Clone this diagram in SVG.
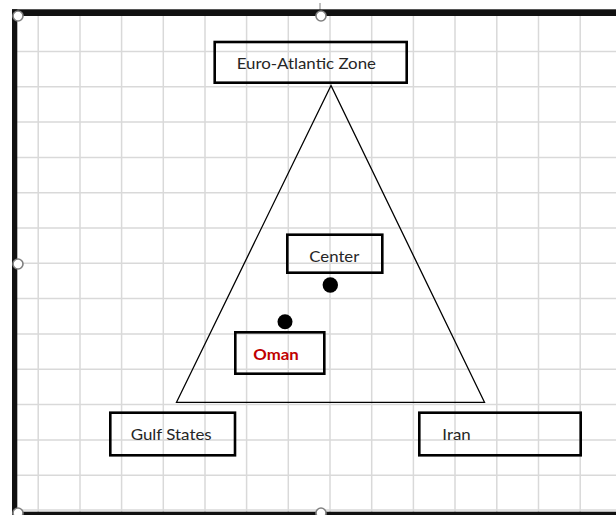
<svg xmlns="http://www.w3.org/2000/svg" width="616" height="515" viewBox="0 0 616 515">
<style>
.grid line{stroke:#d9d9d9;stroke-width:1.5}
.box{fill:none;stroke:#000;stroke-width:2.6}
.lbl{font-family:Lato,"Liberation Sans",sans-serif;font-size:15px;fill:#262626}
.oman{font-family:Lato,"Liberation Sans",sans-serif;font-size:15px;font-weight:bold;fill:#c00000}
.handle{fill:#fff;stroke:#808080;stroke-width:1.6}
.dot{fill:#000}
</style>
<rect width="616" height="515" fill="#fff"/>
<g class="grid">
<line x1="38.2" y1="16" x2="38.2" y2="512"/>
<line x1="80" y1="16" x2="80" y2="512"/>
<line x1="121.6" y1="16" x2="121.6" y2="512"/>
<line x1="163.3" y1="16" x2="163.3" y2="512"/>
<line x1="205" y1="16" x2="205" y2="512"/>
<line x1="246.6" y1="16" x2="246.6" y2="512"/>
<line x1="288.3" y1="16" x2="288.3" y2="512"/>
<line x1="330" y1="16" x2="330" y2="512"/>
<line x1="371.7" y1="16" x2="371.7" y2="512"/>
<line x1="413.4" y1="16" x2="413.4" y2="512"/>
<line x1="455" y1="16" x2="455" y2="512"/>
<line x1="496.8" y1="16" x2="496.8" y2="512"/>
<line x1="538.5" y1="16" x2="538.5" y2="512"/>
<line x1="580.2" y1="16" x2="580.2" y2="512"/>
<line x1="17" y1="51.4" x2="616" y2="51.4"/>
<line x1="17" y1="86.7" x2="616" y2="86.7"/>
<line x1="17" y1="122" x2="616" y2="122"/>
<line x1="17" y1="157.4" x2="616" y2="157.4"/>
<line x1="17" y1="192.7" x2="616" y2="192.7"/>
<line x1="17" y1="228" x2="616" y2="228"/>
<line x1="17" y1="263.3" x2="616" y2="263.3"/>
<line x1="17" y1="298.6" x2="616" y2="298.6"/>
<line x1="17" y1="334" x2="616" y2="334"/>
<line x1="17" y1="369.3" x2="616" y2="369.3"/>
<line x1="17" y1="404.6" x2="616" y2="404.6"/>
<line x1="17" y1="440" x2="616" y2="440"/>
<line x1="17" y1="475.3" x2="616" y2="475.3"/>
<line x1="17" y1="510" x2="616" y2="510"/>
</g>
<g id="frame">
<line x1="320" y1="3" x2="320" y2="11" stroke="#808080" stroke-width="1"/>
<rect x="12" y="9.3" width="604" height="6.7" fill="#111"/>
<rect x="12" y="9.3" width="5.3" height="505.7" fill="#111"/>
<rect x="12" y="511.7" width="604" height="3.3" fill="#111"/>
<circle class="handle" cx="18" cy="16" r="5"/>
<circle class="handle" cx="321" cy="16" r="5"/>
<circle class="handle" cx="18" cy="264" r="5"/>
<circle class="handle" cx="18" cy="513" r="5"/>
<circle class="handle" cx="321" cy="513" r="5"/>
</g>
<g id="connectors">
<polygon points="331,85.5 176.5,402.3 484.5,402.3" fill="none" stroke="#000" stroke-width="1.3" stroke-linejoin="miter"/>
</g>
<g id="euro-atlantic">
<rect class="box" x="214.7" y="42" width="192" height="40.7"/>
<text class="lbl" x="236.7" y="69.3" textLength="139.3" lengthAdjust="spacingAndGlyphs">Euro-Atlantic Zone</text>
</g>
<g id="center">
<rect class="box" x="287.3" y="234.7" width="95" height="38"/>
<text class="lbl" x="309.3" y="262.3" textLength="50" lengthAdjust="spacingAndGlyphs">Center</text>
</g>
<g id="center-dot">
<circle class="dot" cx="330.3" cy="285" r="7.7"/>
</g>
<g id="oman-dot">
<circle class="dot" cx="285" cy="321.7" r="7.5"/>
</g>
<g id="oman">
<rect class="box" x="235.3" y="332.3" width="89" height="41.4"/>
<text class="oman" x="253.3" y="360" textLength="45.4" lengthAdjust="spacingAndGlyphs">Oman</text>
</g>
<g id="gulf-states">
<rect class="box" x="110.3" y="412.7" width="124.7" height="42.6"/>
<text class="lbl" x="130.7" y="440" textLength="81" lengthAdjust="spacingAndGlyphs">Gulf States</text>
</g>
<g id="iran">
<rect class="box" x="419.3" y="412.7" width="161.4" height="42.6"/>
<text class="lbl" x="442.3" y="440" textLength="28.4" lengthAdjust="spacingAndGlyphs">Iran</text>
</g>
</svg>
